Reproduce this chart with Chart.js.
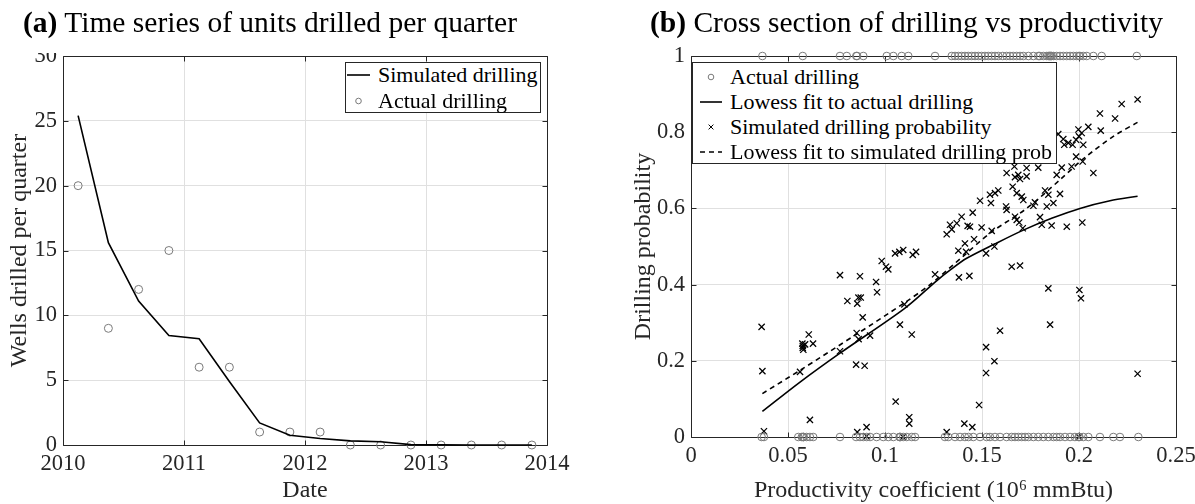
<!DOCTYPE html>
<html>
<head>
<meta charset="utf-8">
<script src="https://cdn.jsdelivr.net/npm/chart.js@4.4.1/dist/chart.umd.min.js"></script>
<style>
  html, body { margin: 0; padding: 0; background: #fff; }
  body { width: 1195px; height: 504px; position: relative; overflow: hidden;
         font-family: "Liberation Serif", "DejaVu Serif", serif; color: #000; }
  canvas { position: absolute; top: 0; }
  #chartA { left: 0; }
  #chartB { left: 597px; }
  .ptitle { position: absolute; top: 0; padding-top: 4px; font-size: 29.5px; line-height: 36px;
            white-space: nowrap; }
  #titleA { height: 49px; background: #fff; }
  .legend { position: absolute; background: #fff; border: 1px solid #262626; box-sizing: border-box;
            font-size: 22px; }
  .legend .row { position: absolute; left: 0; right: 0; height: 26px; }
  .legend .row svg { position: absolute; top: 0; }
  .legend .row span { position: absolute; top: 0; line-height: 26px; white-space: nowrap; }
</style>
</head>
<body>
<canvas id="chartA" width="597" height="504"></canvas>
<canvas id="chartB" width="598" height="504"></canvas>
<div id="titleA" class="ptitle" style="left:23px"><b>(a)</b> Time series of units drilled per quarter</div>
<div id="titleB" class="ptitle" style="left:650px"><b>(b)</b> Cross section of drilling vs productivity</div>
<div id="legendA" class="legend" style="left:345px;top:62px;width:196px;height:51px"></div>
<div id="legendB" class="legend" style="left:692px;top:62px;width:365px;height:102px"></div>

<script>
// ---------- (a) quarterly drilling ----------
const quarterDates = [2010.125, 2010.375, 2010.625, 2010.875, 2011.125, 2011.375, 2011.625, 2011.875,
                      2012.125, 2012.375, 2012.625, 2012.875, 2013.125, 2013.375, 2013.625, 2013.875];
const simulatedWells = [25.4, 15.6, 11.1, 8.45, 8.2, 4.9, 1.7, 0.75, 0.5, 0.32, 0.25, 0.03, 0.01, 0, 0, 0];
const actualWells    = [20, 9, 12, 15, 6, 6, 1, 1, 1, 0, 0, 0, 0, 0, 0, 0];
const yearTicks = ['2010', '2011', '2012', '2013', '2014'];
const wellTicks = ['0', '5', '10', '15', '20', '25', '30'];

// ---------- (b) drilling vs productivity ----------
// productivity of units that were drilled (outcome 1) and not drilled (outcome 0)
const drilledProd = [0.0368, 0.0576, 0.0768, 0.0803, 0.0852, 0.0856, 0.0888, 0.1009, 0.1043, 0.1086,
  0.1120, 0.1258, 0.1344, 0.1361, 0.1378, 0.1395, 0.1412, 0.1429, 0.1447, 0.1464, 0.1481, 0.1498,
  0.1515, 0.1532, 0.1550, 0.1567, 0.1584, 0.1607, 0.1627, 0.1644, 0.1661, 0.1679, 0.1696, 0.1713,
  0.1739, 0.1765, 0.1790, 0.1798, 0.1816, 0.1834, 0.1842, 0.1848, 0.1851, 0.1855, 0.1859, 0.1868,
  0.1885, 0.1902, 0.1919, 0.1937, 0.1954, 0.1971, 0.1988, 0.2000, 0.2005, 0.2022, 0.2040, 0.2074,
  0.2117, 0.2298];
const idleProd = [0.0364, 0.0376, 0.0553, 0.0571, 0.0577, 0.0579, 0.0581, 0.0596, 0.0613, 0.0630,
  0.0768, 0.0851, 0.0871, 0.0888, 0.0906, 0.0923, 0.0957, 0.0991, 0.1017, 0.1043, 0.1075, 0.1077,
  0.1079, 0.1094, 0.1112, 0.1138, 0.1155, 0.1309, 0.1326, 0.1361, 0.1387, 0.1412, 0.1430, 0.1455,
  0.1490, 0.1524, 0.1541, 0.1567, 0.1593, 0.1627, 0.1653, 0.1670, 0.1687, 0.1705, 0.1722, 0.1739,
  0.1765, 0.1790, 0.1816, 0.1842, 0.1868, 0.1885, 0.1902, 0.1928, 0.1954, 0.1979, 0.1998, 0.2002,
  0.2022, 0.2048, 0.2108, 0.2177, 0.2211, 0.2306];

// simulated drilling probability per unit
const simProd = [0.0364, 0.0368, 0.0376, 0.0562, 0.0574, 0.0576, 0.0576, 0.0579, 0.0588, 0.0607,
  0.0629, 0.0613, 0.0768, 0.0806, 0.0851, 0.0854, 0.0857, 0.0863, 0.0875, 0.0864, 0.0885, 0.0895,
  0.0857, 0.0905, 0.0923, 0.0954, 0.0959, 0.1055, 0.1077, 0.1100, 0.1125, 0.1125, 0.1138, 0.1093,
  0.2000, 0.0905,
  0.0768, 0.0871, 0.0983, 0.1005, 0.1017, 0.1052, 0.1074, 0.1094, 0.1143, 0.1160, 0.1258,
  0.1318, 0.1335, 0.1344, 0.1370, 0.1395, 0.1426, 0.1438, 0.1452, 0.1378, 0.1412, 0.1418, 0.1459,
  0.1381, 0.1435, 0.1490, 0.1498, 0.1521, 0.1541, 0.1546, 0.1550, 0.1564, 0.1567, 0.1584, 0.1624,
  0.1627, 0.1627, 0.1658, 0.1667, 0.1670, 0.1679, 0.1687, 0.1696, 0.1730, 0.1730, 0.1705, 0.1713,
  0.1670, 0.1679, 0.1692, 0.1710, 0.1653, 0.1696, 0.1773, 0.1765, 0.1790, 0.1799, 0.1808, 0.1825,
  0.1834, 0.1842, 0.1859, 0.1868, 0.1885, 0.1902, 0.1937, 0.1893, 0.1919, 0.1924, 0.1945, 0.1967,
  0.1985, 0.1997, 0.2000, 0.2022, 0.2048, 0.2014, 0.1985, 0.2019, 0.1962, 0.1911, 0.2074, 0.2108,
  0.2112, 0.2186, 0.2220, 0.2302, 0.2017,
  0.1318, 0.1409, 0.1450, 0.1485, 0.1521, 0.1521, 0.1564, 0.1593, 0.1842, 0.1851, 0.2002, 0.2010,
  0.2302];
const simProb = [0.289, 0.173, 0.015, 0.171, 0.245, 0.239, 0.234, 0.229, 0.243, 0.269,
  0.245, 0.045, 0.225, 0.357, 0.190, 0.273, 0.350, 0.366, 0.366, 0.257, 0.314, 0.187,
  0.013, 0.026, 0.266, 0.407, 0.380, 0.093, 0.295, 0.348, 0.052, 0.035, 0.269, 0.000,
  0.000, 0.002,
  0.425, 0.422, 0.462, 0.447, 0.440, 0.482, 0.486, 0.491, 0.478, 0.486, 0.427,
  0.532, 0.557, 0.545, 0.561, 0.578, 0.554, 0.552, 0.589, 0.489, 0.508, 0.486, 0.519,
  0.419, 0.423, 0.620, 0.550, 0.482, 0.636, 0.614, 0.541, 0.500, 0.640, 0.647, 0.605,
  0.596, 0.693, 0.657, 0.710, 0.682, 0.640, 0.688, 0.677, 0.706, 0.684, 0.631, 0.622,
  0.578, 0.570, 0.563, 0.548, 0.447, 0.450, 0.616, 0.607, 0.707, 0.577, 0.557, 0.647,
  0.605, 0.636, 0.555, 0.614, 0.688, 0.638, 0.552, 0.795, 0.782, 0.767, 0.772, 0.767,
  0.780, 0.807, 0.789, 0.767, 0.814, 0.798, 0.736, 0.723, 0.710, 0.707, 0.693, 0.849,
  0.804, 0.836, 0.874, 0.886, 0.563,
  0.013, 0.035, 0.026, 0.084, 0.236, 0.168, 0.199, 0.279, 0.390, 0.295, 0.386, 0.364,
  0.166];

// lowess smooths
const lowessActualX = [0.0368, 0.0562, 0.0768, 0.1100, 0.1266, 0.1335, 0.1421, 0.1567, 0.1713, 0.1859, 0.2005, 0.2160, 0.2302];
const lowessActualY = [0.067, 0.144, 0.220, 0.337, 0.410, 0.438, 0.469, 0.507, 0.543, 0.574, 0.600, 0.620, 0.632];
const lowessSimX = [0.0368, 0.0562, 0.0854, 0.1100, 0.1232, 0.1404, 0.1541, 0.1730, 0.1902, 0.2022, 0.2177, 0.2302];
const lowessSimY = [0.114, 0.175, 0.270, 0.352, 0.400, 0.475, 0.535, 0.600, 0.675, 0.730, 0.789, 0.826];

const prodTicks = ['0', '0.05', '0.1', '0.15', '0.2', '0.25'];
const probTicks = ['0', '0.2', '0.4', '0.6', '0.8', '1'];

// ---------- shared styling ----------
const SERIF = "'Liberation Serif', 'DejaVu Serif', serif";
const AXIS = '#262626';
const GRID = '#e0e0e0';
const CIRCLE = '#7a7a7a';
Chart.defaults.font.family = SERIF;
Chart.defaults.color = AXIS;

const tickFont = { family: SERIF, size: 22.5, lineHeight: 1.2 };
const titleFont = { family: SERIF, size: 24, lineHeight: 1.1 };

const zip = (xs, ys) => xs.map((x, i) => ({ x, y: ys[i] }));

// axes box with short inward tick marks on all four sides
const boxAxes = {
  id: 'boxAxes',
  beforeDatasetsDraw(chart) {
    const { ctx, chartArea: a, scales } = chart;
    const len = 5;
    const L = Math.round(a.left) + 0.5, R = Math.round(a.right) + 0.5;
    const T = Math.round(a.top) + 0.5, B = Math.round(a.bottom) + 0.5;
    ctx.save();
    ctx.strokeStyle = AXIS;
    ctx.lineWidth = 1;
    ctx.beginPath();
    scales.x.ticks.forEach(t => {
      const p = Math.round(scales.x.getPixelForValue(t.value)) + 0.5;
      ctx.moveTo(p, B); ctx.lineTo(p, B - len);
      ctx.moveTo(p, T); ctx.lineTo(p, T + len);
    });
    scales.y.ticks.forEach(t => {
      const p = Math.round(scales.y.getPixelForValue(t.value)) + 0.5;
      ctx.moveTo(L, p); ctx.lineTo(L + len, p);
      ctx.moveTo(R, p); ctx.lineTo(R - len, p);
    });
    ctx.rect(L, T, R - L, B - T);
    ctx.stroke();
    ctx.restore();
  }
};

function axis(opts) {
  return {
    type: 'linear',
    min: opts.min, max: opts.max,
    ticks: { stepSize: opts.step, padding: opts.tickPad, font: tickFont, color: AXIS,
             callback: (v, i) => opts.labels[i] },
    grid: { color: GRID, lineWidth: 1, drawTicks: false },
    border: { display: false },
    title: { display: true, text: opts.title, font: titleFont, color: AXIS, padding: opts.titlePad },
    afterFit: opts.fit
  };
}

const common = {
  responsive: false,
  animation: false,
  events: [],
  plugins: { legend: { display: false }, tooltip: { enabled: false } }
};

// ---------- chart (a) ----------
const chartA = new Chart(document.getElementById('chartA'), {
  type: 'line',
  data: {
    datasets: [
      { label: 'Simulated drilling', data: zip(quarterDates, simulatedWells),
        borderColor: '#000', borderWidth: 1.6, pointRadius: 0, tension: 0, fill: false, clip: false },
      { label: 'Actual drilling', data: zip(quarterDates, actualWells), showLine: false,
        pointStyle: 'circle', pointRadius: 4, borderColor: CIRCLE, borderWidth: 1,
        backgroundColor: 'rgba(0,0,0,0)', clip: false }
    ]
  },
  options: Object.assign({}, common, {
    layout: { padding: { left: 0, top: 56, right: 50, bottom: 0 } },
    scales: {
      x: axis({ min: 2010, max: 2014, step: 1, labels: yearTicks, tickPad: 6, title: 'Date',
                titlePad: { top: 0, bottom: 0 },
                fit: s => { s.height = 59; s.paddingLeft = 0; s.paddingRight = 0; } }),
      y: axis({ min: 0, max: 30, step: 5, labels: wellTicks, tickPad: 6, title: 'Wells drilled per quarter',
                titlePad: { top: 7, bottom: 0 },
                fit: s => { s.width = 63; s.paddingTop = 0; s.paddingBottom = 0; } })
    }
  }),
  plugins: [boxAxes]
});

// ---------- chart (b) ----------
const chartB = new Chart(document.getElementById('chartB'), {
  type: 'scatter',
  data: {
    datasets: [
      { label: 'Actual drilling',
        data: drilledProd.map(x => ({ x, y: 1 })).concat(idleProd.map(x => ({ x, y: 0 }))),
        pointStyle: 'circle', pointRadius: 3.8, borderColor: CIRCLE, borderWidth: 1,
        backgroundColor: 'rgba(0,0,0,0)', clip: false },
      { label: 'Lowess fit to actual drilling', data: zip(lowessActualX, lowessActualY),
        showLine: true, borderColor: '#000', borderWidth: 1.6, pointRadius: 0, tension: 0.3, clip: false },
      { label: 'Simulated drilling probability', data: zip(simProd, simProb),
        pointStyle: 'crossRot', pointRadius: 4.4, borderColor: '#000', borderWidth: 1.25, clip: false },
      { label: 'Lowess fit to simulated drilling prob', data: zip(lowessSimX, lowessSimY),
        showLine: true, borderColor: '#000', borderWidth: 1.6, borderDash: [5, 4], pointRadius: 0,
        tension: 0.3, clip: false }
    ]
  },
  options: Object.assign({}, common, {
    layout: { padding: { left: 0, top: 56, right: 19, bottom: 0 } },
    scales: {
      x: axis({ min: 0, max: 0.25, step: 0.05, labels: prodTicks, tickPad: 6,
                title: 'Productivity coefficient (10\u2076 mmBtu)', titlePad: { top: 0, bottom: 0 },
                fit: s => { s.height = 67; s.paddingLeft = 0; s.paddingRight = 0; } }),
      y: axis({ min: 0, max: 1, step: 0.2, labels: probTicks, tickPad: 6, title: 'Drilling probability',
                titlePad: { top: 34, bottom: 0 },
                fit: s => { s.width = 94; s.paddingTop = 0; s.paddingBottom = 0; } })
    }
  }),
  plugins: [boxAxes]
});

// ---------- boxed legends built from the dataset labels ----------
function symbolSvg(ds, w, left) {
  const c = 13;
  let inner;
  if (ds.pointRadius === 0) {
    const dash = ds.borderDash ? ' stroke-dasharray="' + ds.borderDash.join(',') + '"' : '';
    inner = '<line x1="0" y1="' + c + '" x2="' + w + '" y2="' + c + '" stroke="#000" stroke-width="1.6"' + dash + '/>';
  } else if (ds.pointStyle === 'crossRot') {
    const m = w / 2, r = 2.4;
    inner = '<path d="M' + (m - r) + ' ' + (c - r) + 'L' + (m + r) + ' ' + (c + r) + 'M' + (m - r) + ' ' + (c + r) +
            'L' + (m + r) + ' ' + (c - r) + '" stroke="#000" stroke-width="1"/>';
  } else {
    inner = '<circle cx="' + (w / 2) + '" cy="' + c + '" r="2.8" fill="none" stroke="' + CIRCLE + '" stroke-width="1"/>';
  }
  return '<svg width="' + w + '" height="26" style="left:' + left + 'px">' + inner + '</svg>';
}

function buildLegend(chart, id, o) {
  const box = document.getElementById(id);
  o.order.forEach((di, k) => {
    const ds = chart.data.datasets[di];
    const row = document.createElement('div');
    row.className = 'row';
    row.style.top = (o.first + k * o.step - 13) + 'px';
    row.innerHTML = symbolSvg(ds, o.symW, o.symX) + '<span style="left:' + o.textX + 'px">' + ds.label + '</span>';
    box.appendChild(row);
  });
}

buildLegend(chartA, 'legendA', { order: [0, 1], first: 12, step: 26, symX: 1, symW: 23, textX: 32 });
buildLegend(chartB, 'legendB', { order: [0, 1, 2, 3], first: 14, step: 25, symX: 7, symW: 22, textX: 37 });
</script>
</body>
</html>
